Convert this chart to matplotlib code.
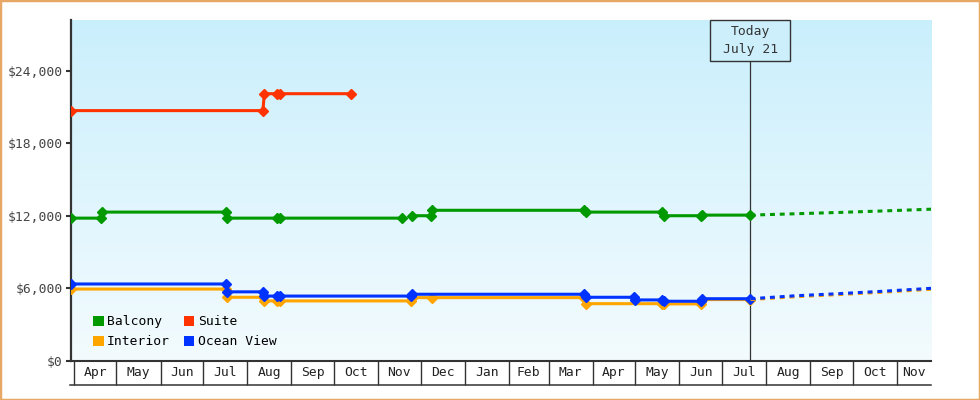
import numpy as np
import matplotlib
matplotlib.use("Agg")
import matplotlib.pyplot as plt
import matplotlib.dates as mdates
from matplotlib.patches import Rectangle, Patch
from matplotlib.colors import LinearSegmentedColormap
from matplotlib.ticker import FuncFormatter, FixedLocator
from matplotlib.transforms import blended_transform_factory

plt.rcParams['font.family'] = ['DejaVu Sans Mono']

# price history
balcony_dates = ['2022-03-30', '2022-04-20', '2022-04-21', '2022-07-17', '2022-07-18',
                 '2022-08-22', '2022-08-24', '2022-11-18', '2022-11-21', '2022-11-25',
                 '2022-12-08', '2022-12-09', '2023-03-26', '2023-03-27', '2023-05-20',
                 '2023-05-21', '2023-06-16', '2023-06-17', '2023-07-21']
balcony_prices = [11800, 11800, 12300, 12300, 11800,
                  11800, 11800, 11800, np.nan, 12000,
                  12000, 12450, 12450, 12300, 12300,
                  12000, 12000, 12050, 12050]

suite_dates = ['2022-03-30', '2022-08-12', '2022-08-13', '2022-08-22', '2022-08-24', '2022-10-13']
suite_prices = [20700, 20700, 22100, 22100, 22100, 22100]

interior_dates = ['2022-03-30', '2022-07-17', '2022-07-18', '2022-08-12', '2022-08-13',
                  '2022-08-22', '2022-08-24', '2022-11-24', '2022-11-25', '2022-12-09',
                  '2023-03-26', '2023-03-27', '2023-05-20', '2023-05-21', '2023-06-16',
                  '2023-06-17', '2023-07-21']
interior_prices = [5930, 5930, 5250, 5250, 4950,
                   4950, 4950, 4950, 5220, 5220,
                   5220, 4720, 4720, 4700, 4700,
                   5060, 5060]

ocean_dates = ['2022-03-30', '2022-07-17', '2022-07-18', '2022-08-12', '2022-08-13',
               '2022-08-22', '2022-08-24', '2022-11-24', '2022-11-25', '2023-03-26',
               '2023-03-27', '2023-04-30', '2023-05-01', '2023-05-20', '2023-05-21',
               '2023-06-16', '2023-06-17', '2023-07-21']
ocean_prices = [6350, 6350, 5700, 5700, 5350,
                5350, 5350, 5350, 5500, 5500,
                5250, 5250, 5030, 5030, 4920,
                4920, 5130, 5130]

# forecast after today
forecast_dates = ['2023-07-21', '2023-08-21', '2023-09-21', '2023-10-21', '2023-11-25']
balcony_forecast = [12050, 12160, 12270, 12390, 12540]
interior_forecast = [5060, 5290, 5470, 5660, 5910]
ocean_forecast = [5130, 5370, 5550, 5740, 5990]

month_labels = ['Apr', 'May', 'Jun', 'Jul', 'Aug', 'Sep', 'Oct', 'Nov', 'Dec', 'Jan',
                'Feb', 'Mar', 'Apr', 'May', 'Jun', 'Jul', 'Aug', 'Sep', 'Oct', 'Nov']
yticks = [0, 6000, 12000, 18000, 24000]

today = np.datetime64('2023-07-21')
x_start = np.datetime64('2022-03-30')
x_end = np.datetime64('2023-11-25')
y_max = 28200

GREEN = '#009900'
RED = '#ff3300'
ORANGE = '#ffa500'
BLUE = '#0033ff'
DARK = '#333333'


def D(lst):
    return np.array(lst, dtype='datetime64[D]')


fig = plt.figure(figsize=(9.8, 4), dpi=100)
pos = [71 / 980, 1 - 360.7 / 400, 860 / 980, 340.7 / 400]

# gradient background
bg = fig.add_axes(pos, zorder=0)
cmap = LinearSegmentedColormap.from_list('bg', ['#caeffc', '#f3fbfe'])
bg.imshow(np.linspace(0, 1, 256).reshape(-1, 1), cmap=cmap, aspect='auto',
          extent=[0, 1, 0, 1])
bg.axis('off')

ax = fig.add_axes(pos, zorder=1)
ax.patch.set_alpha(0)

lw = 2.2
ms = 5.6
for dates, prices, color in [(suite_dates, suite_prices, RED),
                             (balcony_dates, balcony_prices, GREEN),
                             (interior_dates, interior_prices, ORANGE),
                             (ocean_dates, ocean_prices, BLUE)]:
    ax.plot(D(dates), prices, color=color, lw=lw, marker='D', ms=ms, mec=color, zorder=3)

for fc, color in [(balcony_forecast, GREEN), (interior_forecast, ORANGE), (ocean_forecast, BLUE)]:
    ax.plot(D(forecast_dates), fc, color=color, lw=lw, ls=(0, (1.6, 1.6)),
            dash_capstyle='butt', zorder=3)

ax.set_xlim(x_start, x_end)
ax.set_ylim(0, y_max)

# month cells
month_starts = np.arange(np.datetime64('2022-04'), np.datetime64('2023-12'),
                         dtype='datetime64[M]')
starts = month_starts.astype('datetime64[D]')
ends = (month_starts + 1).astype('datetime64[D]')
lo = mdates.date2num(np.maximum(starts, x_start))
hi = mdates.date2num(np.minimum(ends, x_end))
ax.xaxis.set_major_locator(FixedLocator((lo + hi) / 2))
ax.set_xticklabels(month_labels)
ax.xaxis.set_minor_locator(FixedLocator(mdates.date2num(starts)))
ax.tick_params(axis='x', which='minor', length=17.5, width=1, color=DARK)
ax.tick_params(axis='x', which='major', length=0, pad=4, labelsize=9.4, labelcolor='#222222')
ax.plot([-0.001, 1], [-0.0713, -0.0713], transform=ax.transAxes, color=DARK,
        lw=1.1, clip_on=False)

ax.set_yticks(yticks)
ax.yaxis.set_major_formatter(FuncFormatter(lambda v, p: f"${v:,.0f}"))
ax.tick_params(axis='y', length=3.6, width=1.5, color=DARK, pad=2.2,
               labelsize=9.4, labelcolor='#444444')

for s in ['top', 'right']:
    ax.spines[s].set_visible(False)
ax.spines['left'].set_linewidth(1.6)
ax.spines['left'].set_color(DARK)
ax.spines['bottom'].set_linewidth(1.5)
ax.spines['bottom'].set_color(DARK)

# today marker
box_h = 40.7 / 340.7
ax.axvline(today, ymin=0, ymax=1 - box_h, color=DARK, lw=0.9, zorder=2)
trans = blended_transform_factory(ax.transData, ax.transAxes)
t = mdates.date2num(today)
ax.add_patch(Rectangle((t - 28.15, 1 - box_h), 56.3, box_h, transform=trans,
                       facecolor='#cdeffc', edgecolor=DARK, lw=1, zorder=4, clip_on=False))
ax.text(t, 1 - box_h / 2, "Today\nJuly 21", transform=trans, ha='center', va='center',
        fontsize=9.4, linespacing=1.45, color=DARK, zorder=5)

handles = [Patch(facecolor=GREEN, label='Balcony'), Patch(facecolor=ORANGE, label='Interior'),
           Patch(facecolor=RED, label='Suite'), Patch(facecolor=BLUE, label='Ocean View')]
ax.legend(handles=handles, ncol=2, loc='upper left', bbox_to_anchor=(0.026, 0.133),
          frameon=False, borderpad=0, borderaxespad=0, fontsize=9.4,
          handlelength=0.8, handleheight=0.8, handletextpad=0.26,
          columnspacing=1.05, labelspacing=0.52)

fig.add_artist(Rectangle((0, 0), 1, 1, transform=fig.transFigure, fill=False,
                         edgecolor='#e8a865', lw=2.5))

fig.savefig('out.png', dpi=100)
